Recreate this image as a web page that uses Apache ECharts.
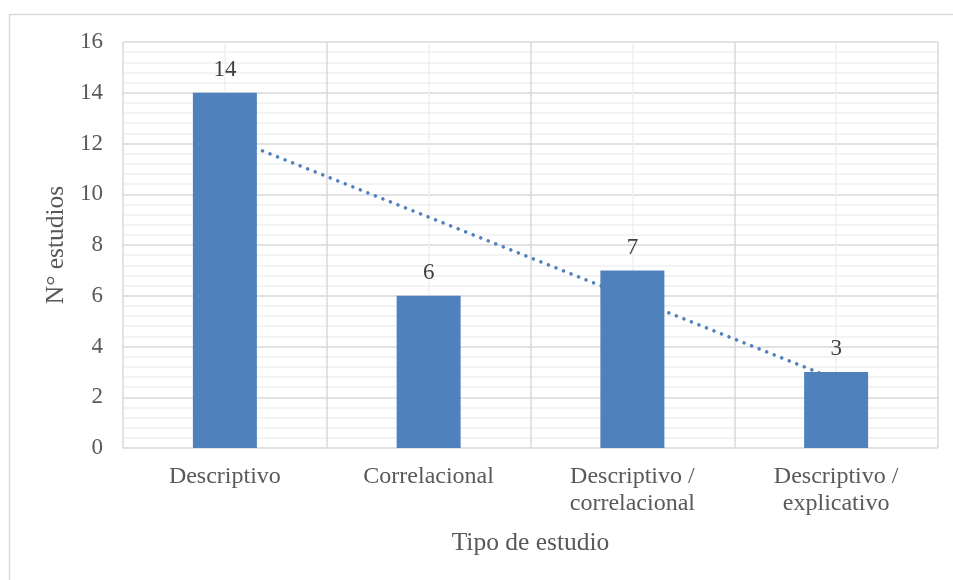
<!DOCTYPE html>
<html>
<head>
<meta charset="utf-8">
<title>Tipo de estudio</title>
<script src="https://cdn.jsdelivr.net/npm/echarts@6/dist/echarts.min.js"></script>
<style>
  html, body { margin: 0; padding: 0; background: #ffffff; }
  #chart { width: 953px; height: 580px; }
</style>
</head>
<body>
<div id="chart"></div>
<script>
// Study types and number of studies in each
const categories = ['Descriptivo', 'Correlacional', 'Descriptivo /\ncorrelacional', 'Descriptivo /\nexplicativo'];
const studies = [14, 6, 7, 3];
const yTicks = [0, 2, 4, 6, 8, 10, 12, 14, 16];

// Linear least-squares trend through the bar values (x = 1..n)
function linearTrend(values) {
  const n = values.length;
  const xs = values.map((_, i) => i + 1);
  const mx = xs.reduce((a, b) => a + b, 0) / n;
  const my = values.reduce((a, b) => a + b, 0) / n;
  let sxy = 0, sxx = 0;
  for (let i = 0; i < n; i++) {
    sxy += (xs[i] - mx) * (values[i] - my);
    sxx += (xs[i] - mx) * (xs[i] - mx);
  }
  const slope = sxy / sxx;
  return xs.map(x => +(my + slope * (x - mx)).toFixed(4));
}
const trend = linearTrend(studies);

const font = '"Liberation Serif", "Times New Roman", serif';
const textColor = '#595959';
const majorGrid = '#d9d9d9';
const minorGrid = '#f0f0f0';
const barColor = '#4f81bd';

const chart = echarts.init(document.getElementById('chart'), null, { renderer: 'canvas' });

chart.setOption({
  animation: false,
  backgroundColor: '#ffffff',
  textStyle: { fontFamily: font },
  graphic: [{
    type: 'rect',
    left: 7, top: 12,
    shape: { width: 980, height: 620 },
    style: { fill: 'none', stroke: '#d9d9d9', lineWidth: 1.5 },
    silent: true, z: -10
  }],
  grid: { left: 123, right: 15, top: 42, bottom: 132 },
  xAxis: [{
    type: 'category',
    data: categories,
    axisLine: { show: false },
    axisTick: { show: false },
    splitLine: { show: false },
    axisLabel: {
      interval: 0,
      margin: 15,
      color: textColor,
      fontFamily: font,
      fontSize: 24,
      lineHeight: 27
    },
    name: 'Tipo de estudio',
    nameLocation: 'middle',
    nameGap: 82,
    nameTextStyle: { color: textColor, fontFamily: font, fontSize: 25.5 }
  }, {
    // helper axis: category boundaries (major) and centres (minor)
    type: 'value',
    position: 'bottom',
    min: 0, max: 8, interval: 2,
    axisLine: { show: false },
    axisTick: { show: false },
    axisLabel: { show: false },
    splitLine: { show: true, lineStyle: { color: majorGrid, width: 1.5 } },
    minorTick: { show: false, splitNumber: 2 },
    minorSplitLine: { show: true, lineStyle: { color: minorGrid, width: 1.5 } }
  }],
  yAxis: {
    type: 'value',
    min: yTicks[0],
    max: yTicks[yTicks.length - 1],
    interval: yTicks[1] - yTicks[0],
    axisLine: { show: false },
    axisTick: { show: false },
    axisLabel: { margin: 20, color: textColor, fontFamily: font, fontSize: 23 },
    splitLine: { show: true, lineStyle: { color: majorGrid, width: 1.5 } },
    minorTick: { show: false, splitNumber: 5 },
    minorSplitLine: { show: true, lineStyle: { color: minorGrid, width: 1.5 } },
    name: 'N° estudios',
    nameLocation: 'middle',
    nameGap: 45,
    nameTextStyle: { color: textColor, fontFamily: font, fontSize: 25.5 }
  },
  series: [{
    type: 'line',
    xAxisIndex: 0,
    data: trend,
    z: 1,
    symbol: 'none',
    silent: true,
    lineStyle: { color: barColor, width: 3.5, type: [0.1, 8], cap: 'round' }
  }, {
    type: 'bar',
    xAxisIndex: 0,
    data: studies,
    z: 2,
    barWidth: 64,
    itemStyle: { color: barColor },
    label: {
      show: true,
      position: 'top',
      distance: 11,
      color: '#404040',
      fontFamily: font,
      fontSize: 23
    }
  }]
});
</script>
</body>
</html>
